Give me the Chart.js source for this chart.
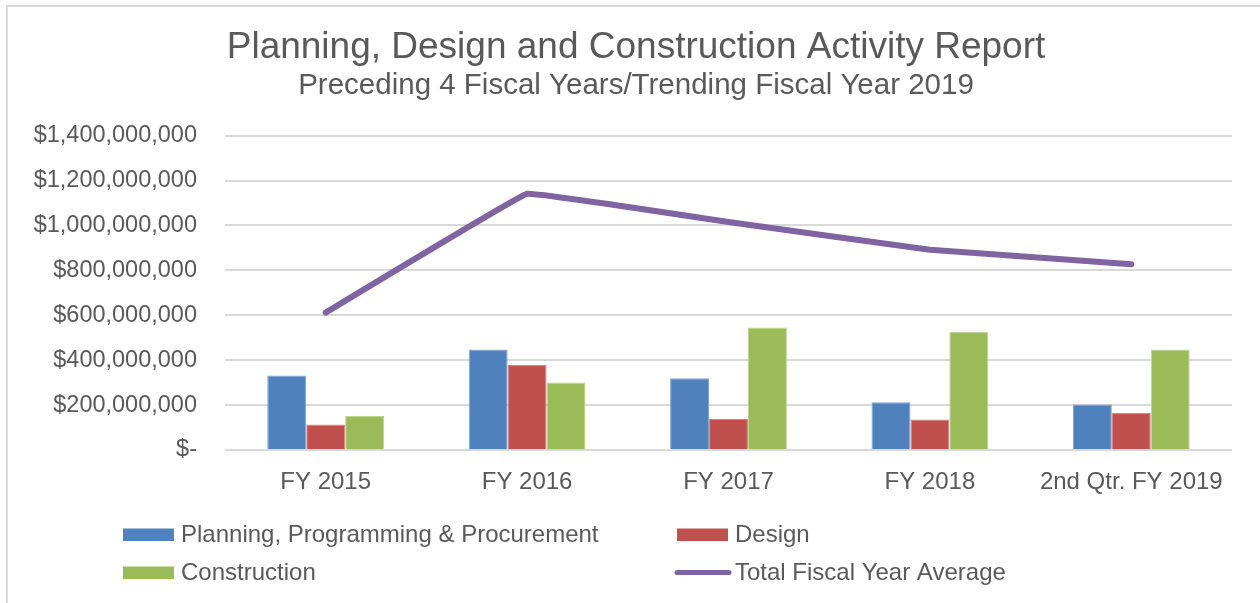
<!DOCTYPE html>
<html>
<head>
<meta charset="utf-8">
<script src="https://cdn.jsdelivr.net/npm/chart.js@4"></script>
<style>
  html, body { margin: 0; padding: 0; background: #fff; }
  #wrap { position: relative; width: 1260px; height: 603px; overflow: hidden; }
  #frame { position: absolute; left: 6px; top: 5px; width: 1252px; height: 640px; border: 2px solid #d9d9d9; }
  #chart { position: absolute; left: 0; top: 0; }
</style>
</head>
<body>
<div id="wrap">
  <div id="frame"></div>
  <canvas id="chart" width="1260" height="603"></canvas>
</div>
<script>
// dados do gráfico (valores em dólares)
const years = ['FY 2015', 'FY 2016', 'FY 2017', 'FY 2018', '2nd Qtr. FY 2019'];
const planning = [332000000, 448000000, 319000000, 213000000, 203000000];
const design = [114000000, 379000000, 138000000, 136000000, 166000000];
const construction = [151000000, 301000000, 545000000, 527000000, 448000000];
const fyAverage = [612000000, 1141000000, 1015000000, 892000000, 827000000];
const yTicks = [0, 200000000, 400000000, 600000000, 800000000, 1000000000, 1200000000, 1400000000];

const textColor = '#595959';
const gridColor = '#d9d9d9';
const fontFamily = '"Liberation Sans", Arial, sans-serif';

// legenda desenhada em duas colunas, como no Excel
const legendSlots = [[123, 534.5], [677, 534.5], [123, 572.5], [677, 572.5]];
const customLegend = {
    id: 'customLegend',
    afterLayout(chart) {
        // centraliza título e subtítulo um pouco à direita, como no original
        chart.boxes.forEach(box => {
            if (box.position === 'top' && box.options && box.options.text) {
                box.left = 40;
            }
        });
    },
    afterDraw(chart) {
        const ctx = chart.ctx;
        ctx.save();
        ctx.font = '24px ' + fontFamily;
        ctx.textBaseline = 'middle';
        chart.data.datasets.forEach((ds, i) => {
            const [x, y] = legendSlots[i];
            if (ds.type === 'line') {
                ctx.strokeStyle = ds.borderColor;
                ctx.lineWidth = 5;
                ctx.lineCap = 'round';
                ctx.beginPath();
                ctx.moveTo(x, y);
                ctx.lineTo(x + 52, y);
                ctx.stroke();
            } else {
                ctx.fillStyle = ds.backgroundColor;
                ctx.fillRect(x, y - 6, 51, 12.5);
            }
            ctx.fillStyle = textColor;
            ctx.fillText(ds.label, x + 58, y + 1);
        });
        ctx.restore();
    }
};

const ctx = document.getElementById('chart').getContext('2d');
const chart = new Chart(ctx, {
    type: 'bar',
    data: {
        labels: years,
        datasets: [{
            label: 'Planning, Programming & Procurement',
            data: planning,
            backgroundColor: '#4f81bd',
            borderColor: '#7fa3d1',
            borderWidth: 1,
            order: 2
        }, {
            label: 'Design',
            data: design,
            backgroundColor: '#c0504d',
            borderColor: '#d68280',
            borderWidth: 1,
            order: 2
        }, {
            label: 'Construction',
            data: construction,
            backgroundColor: '#9bbb59',
            borderColor: '#bdd48f',
            borderWidth: 1,
            order: 2
        }, {
            type: 'line',
            label: 'Total Fiscal Year Average',
            data: fyAverage,
            borderColor: '#8064a2',
            backgroundColor: '#8064a2',
            borderWidth: 6,
            borderCapStyle: 'round',
            borderJoinStyle: 'round',
            pointRadius: 0,
            tension: 0.04,
            fill: false,
            order: 1
        }]
    },
    options: {
        responsive: false,
        animation: false,
        devicePixelRatio: 1,
        barPercentage: 1,
        categoryPercentage: 0.58,
        layout: {
            padding: { left: 0, right: 28, top: 0, bottom: 103 }
        },
        plugins: {
            legend: { display: false },
            tooltip: { enabled: false },
            title: {
                display: true,
                text: 'Planning, Design and Construction Activity Report',
                color: textColor,
                font: { family: fontFamily, size: 37, weight: 'normal', lineHeight: 1.1 },
                padding: { top: 27.5, bottom: 0 }
            },
            subtitle: {
                display: true,
                text: 'Preceding 4 Fiscal Years/Trending Fiscal Year 2019',
                color: textColor,
                font: { family: fontFamily, size: 29.5, weight: 'normal', lineHeight: 1.2 },
                padding: { top: 0, bottom: 32 }
            }
        },
        scales: {
            x: {
                grid: { display: false },
                border: { display: false },
                ticks: {
                    color: textColor,
                    font: { family: fontFamily, size: 24 },
                    padding: 10,
                    maxRotation: 0
                },
                afterFit(scale) { scale.height = 50; }
            },
            y: {
                min: 0,
                max: 1400000000,
                border: { display: false },
                grid: { color: gridColor, lineWidth: 2, drawTicks: false },
                afterBuildTicks(scale) { scale.ticks = yTicks.map(v => ({ value: v })); },
                afterFit(scale) { scale.width = 225; },
                ticks: {
                    color: textColor,
                    font: { family: fontFamily, size: 23.5 },
                    padding: 28,
                    callback: v => v === 0 ? '$-' : '$' + v.toLocaleString('en-US')
                }
            }
        }
    },
    plugins: [customLegend]
});
</script>
</body>
</html>
